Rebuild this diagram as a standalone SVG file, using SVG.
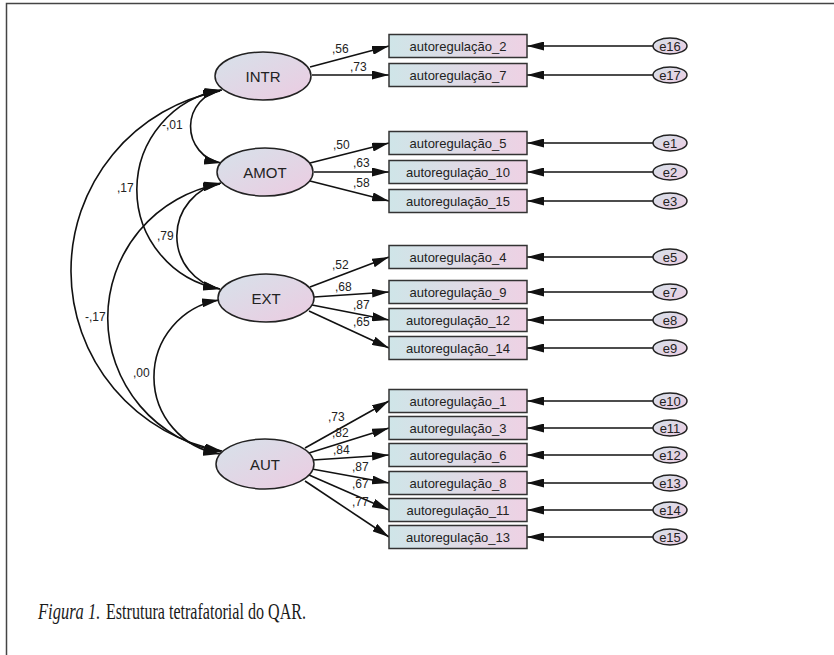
<svg xmlns="http://www.w3.org/2000/svg" width="834" height="655" viewBox="0 0 834 655">
<defs>
<linearGradient id="gLat" x1="0" y1="0" x2="1" y2="1"><stop offset="0" stop-color="#d6e2ea"/><stop offset="1" stop-color="#eccbe1"/></linearGradient>
<linearGradient id="gBox" x1="0" y1="0" x2="1" y2="0"><stop offset="0" stop-color="#cfe5e8"/><stop offset="1" stop-color="#eed1e4"/></linearGradient>
<marker id="ah" markerUnits="userSpaceOnUse" markerWidth="18" markerHeight="9" refX="17" refY="4.5" orient="auto-start-reverse"><path d="M0,0 L17,4.5 L0,9 z" fill="#111"/></marker>
</defs>
<style>
.lat{fill:url(#gLat);stroke:#222;stroke-width:1.5}
.box{fill:url(#gBox);stroke:#333;stroke-width:1.5}
.err{fill:url(#gLat);stroke:#222;stroke-width:1.5}
.t{font-family:"Liberation Sans",Arial,sans-serif;fill:#222;text-anchor:middle;dominant-baseline:central}
.lt{font-size:15px}
.bt{font-size:13px}
.et{font-size:13px}
.lbl{font-family:"Liberation Sans",Arial,sans-serif;font-size:12px;fill:#222}
.c path{stroke:#111;stroke-width:1.6;fill:none}
.c .a{marker-end:url(#ah)}
.c .cv{marker-start:url(#ah);marker-end:url(#ah)}
.cap{font-family:"Liberation Serif","Times New Roman",serif;font-size:16.5px;fill:#1a1a1a}
</style>
<rect width="834" height="655" fill="#fff"/>
<path d="M6.5,655 V3.5 H834" fill="none" stroke="#444" stroke-width="1.5"/>

<g id="connectors" class="c">
<path class="cv" d="M222,90 A37,37 0 0 0 221,163"/>
<path class="cv" d="M221,90 A101,101 0 0 0 220,289"/>
<path class="cv" d="M220,91 A183,183 0 0 0 222,451"/>
<path class="cv" d="M221,183 A54,54 0 0 0 220,289"/>
<path class="cv" d="M220,184 A136,136 0 0 0 221,452"/>
<path class="cv" d="M219,300 A78,78 0 0 0 220,454"/>
<path class="a" d="M310,67 L389,46"/>
<path class="a" d="M312,75 L389,75"/>
<path class="a" d="M310,163 L389,143"/>
<path class="a" d="M314,172 L389,172"/>
<path class="a" d="M310,181 L389,201"/>
<path class="a" d="M310,287 L389,257"/>
<path class="a" d="M314,297 L389,292"/>
<path class="a" d="M312,305 L389,320"/>
<path class="a" d="M309,311 L389,348"/>
<path class="a" d="M305,448 L389,401"/>
<path class="a" d="M309,453 L389,428"/>
<path class="a" d="M313,460 L389,455"/>
<path class="a" d="M312,469 L389,483"/>
<path class="a" d="M309,475 L389,510"/>
<path class="a" d="M305,481 L389,537"/>
<path class="a" d="M653,46 L527,46"/>
<path class="a" d="M653,75 L527,75"/>
<path class="a" d="M653,143 L527,143"/>
<path class="a" d="M653,172 L527,172"/>
<path class="a" d="M653,201 L527,201"/>
<path class="a" d="M653,257 L527,257"/>
<path class="a" d="M653,292 L527,292"/>
<path class="a" d="M653,320 L527,320"/>
<path class="a" d="M653,348 L527,348"/>
<path class="a" d="M653,401 L527,401"/>
<path class="a" d="M653,428 L527,428"/>
<path class="a" d="M653,455 L527,455"/>
<path class="a" d="M653,483 L527,483"/>
<path class="a" d="M653,510 L527,510"/>
<path class="a" d="M653,537 L527,537"/>
</g>

<g id="labels" class="lbl">
<text x="162" y="129">-,01</text>
<text x="117" y="192">,17</text>
<text x="157" y="240">,79</text>
<text x="85" y="321">-,17</text>
<text x="133" y="377">,00</text>
<text x="332" y="53">,56</text>
<text x="350" y="71">,73</text>
<text x="333" y="149">,50</text>
<text x="353" y="167">,63</text>
<text x="353" y="187">,58</text>
<text x="332" y="269">,52</text>
<text x="335" y="291">,68</text>
<text x="353" y="309">,87</text>
<text x="353" y="326">,65</text>
<text x="328" y="421">,73</text>
<text x="332" y="437">,82</text>
<text x="333" y="454">,84</text>
<text x="352" y="471">,87</text>
<text x="352" y="488">,67</text>
<text x="352" y="506">,77</text>
</g>

<g id="INTR"><ellipse class="lat" cx="263" cy="76" rx="48" ry="24"/><text class="t lt" x="263" y="76">INTR</text></g>
<g id="AMOT"><ellipse class="lat" cx="265" cy="172" rx="48" ry="24"/><text class="t lt" x="265" y="172">AMOT</text></g>
<g id="EXT"><ellipse class="lat" cx="266" cy="298" rx="48" ry="24"/><text class="t lt" x="266" y="298">EXT</text></g>
<g id="AUT"><ellipse class="lat" cx="265" cy="464" rx="49" ry="25"/><text class="t lt" x="265" y="464">AUT</text></g>

<g id="autoregulacao_2"><rect class="box" x="389" y="34.5" width="138" height="23"/><text class="t bt" x="458" y="46">autoregulação_2</text></g>
<g id="autoregulacao_7"><rect class="box" x="389" y="63.5" width="138" height="23"/><text class="t bt" x="458" y="75">autoregulação_7</text></g>
<g id="autoregulacao_5"><rect class="box" x="389" y="131.5" width="138" height="23"/><text class="t bt" x="458" y="143">autoregulação_5</text></g>
<g id="autoregulacao_10"><rect class="box" x="389" y="160.5" width="138" height="23"/><text class="t bt" x="458" y="172">autoregulação_10</text></g>
<g id="autoregulacao_15"><rect class="box" x="389" y="189.5" width="138" height="23"/><text class="t bt" x="458" y="201">autoregulação_15</text></g>
<g id="autoregulacao_4"><rect class="box" x="389" y="245.5" width="138" height="23"/><text class="t bt" x="458" y="257">autoregulação_4</text></g>
<g id="autoregulacao_9"><rect class="box" x="389" y="280.5" width="138" height="23"/><text class="t bt" x="458" y="292">autoregulação_9</text></g>
<g id="autoregulacao_12"><rect class="box" x="389" y="308.5" width="138" height="23"/><text class="t bt" x="458" y="320">autoregulação_12</text></g>
<g id="autoregulacao_14"><rect class="box" x="389" y="336.5" width="138" height="23"/><text class="t bt" x="458" y="348">autoregulação_14</text></g>
<g id="autoregulacao_1"><rect class="box" x="389" y="389.5" width="138" height="23"/><text class="t bt" x="458" y="401">autoregulação_1</text></g>
<g id="autoregulacao_3"><rect class="box" x="389" y="416.5" width="138" height="23"/><text class="t bt" x="458" y="428">autoregulação_3</text></g>
<g id="autoregulacao_6"><rect class="box" x="389" y="443.5" width="138" height="23"/><text class="t bt" x="458" y="455">autoregulação_6</text></g>
<g id="autoregulacao_8"><rect class="box" x="389" y="471.5" width="138" height="23"/><text class="t bt" x="458" y="483">autoregulação_8</text></g>
<g id="autoregulacao_11"><rect class="box" x="389" y="498.5" width="138" height="23"/><text class="t bt" x="458" y="510">autoregulação_11</text></g>
<g id="autoregulacao_13"><rect class="box" x="389" y="525.5" width="138" height="23"/><text class="t bt" x="458" y="537">autoregulação_13</text></g>

<g id="e16"><ellipse class="err" cx="670" cy="46" rx="17" ry="8"/><text class="t et" x="670" y="46">e16</text></g>
<g id="e17"><ellipse class="err" cx="670" cy="75" rx="17" ry="8"/><text class="t et" x="670" y="75">e17</text></g>
<g id="e1"><ellipse class="err" cx="670" cy="143" rx="17" ry="8"/><text class="t et" x="670" y="143">e1</text></g>
<g id="e2"><ellipse class="err" cx="670" cy="172" rx="17" ry="8"/><text class="t et" x="670" y="172">e2</text></g>
<g id="e3"><ellipse class="err" cx="670" cy="201" rx="17" ry="8"/><text class="t et" x="670" y="201">e3</text></g>
<g id="e5"><ellipse class="err" cx="670" cy="257" rx="17" ry="8"/><text class="t et" x="670" y="257">e5</text></g>
<g id="e7"><ellipse class="err" cx="670" cy="292" rx="17" ry="8"/><text class="t et" x="670" y="292">e7</text></g>
<g id="e8"><ellipse class="err" cx="670" cy="320" rx="17" ry="8"/><text class="t et" x="670" y="320">e8</text></g>
<g id="e9"><ellipse class="err" cx="670" cy="348" rx="17" ry="8"/><text class="t et" x="670" y="348">e9</text></g>
<g id="e10"><ellipse class="err" cx="670" cy="401" rx="17" ry="8"/><text class="t et" x="670" y="401">e10</text></g>
<g id="e11"><ellipse class="err" cx="670" cy="428" rx="17" ry="8"/><text class="t et" x="670" y="428">e11</text></g>
<g id="e12"><ellipse class="err" cx="670" cy="455" rx="17" ry="8"/><text class="t et" x="670" y="455">e12</text></g>
<g id="e13"><ellipse class="err" cx="670" cy="483" rx="17" ry="8"/><text class="t et" x="670" y="483">e13</text></g>
<g id="e14"><ellipse class="err" cx="670" cy="510" rx="17" ry="8"/><text class="t et" x="670" y="510">e14</text></g>
<g id="e15"><ellipse class="err" cx="670" cy="537" rx="17" ry="8"/><text class="t et" x="670" y="537">e15</text></g>

<g id="caption" transform="translate(0,619) scale(1,1.35)">
<text class="cap" x="38" y="0" font-style="italic">Figura 1.</text>
<text class="cap" x="106" y="0" textLength="200" lengthAdjust="spacingAndGlyphs">Estrutura tetrafatorial do QAR.</text>
</g>
</svg>
